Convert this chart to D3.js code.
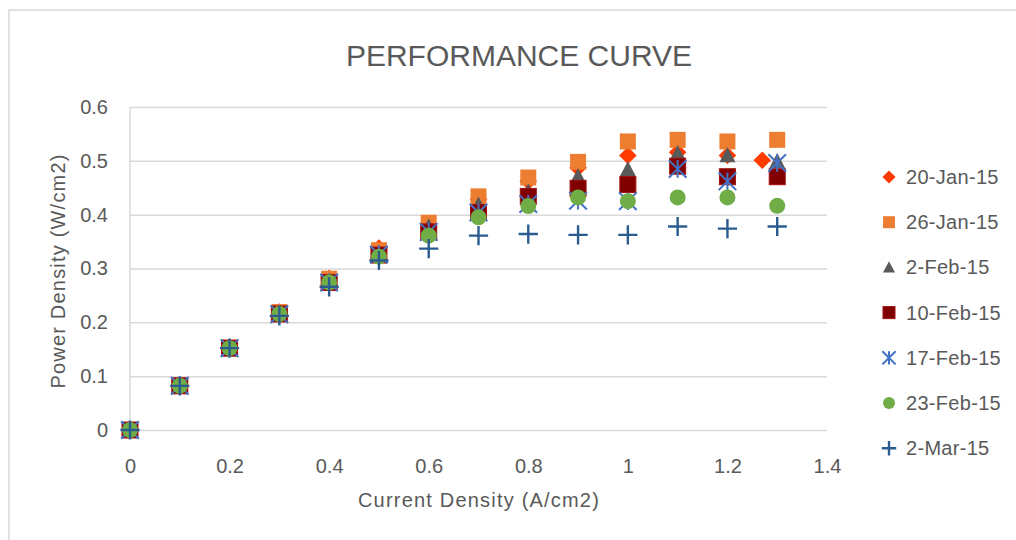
<!DOCTYPE html>
<html>
<head>
<meta charset="utf-8">
<script src="https://cdn.jsdelivr.net/npm/d3@7/dist/d3.min.js"></script>
<style>
  body { margin: 0; background: #fff; }
  text { font-family: "Liberation Sans", Arial, sans-serif; fill: #595959; }
</style>
</head>
<body>
<script>
const width = 1016
const height = 540

// data
const currentDensity = [0, 0.1, 0.2, 0.3, 0.4, 0.5, 0.6, 0.7, 0.8, 0.9, 1.0, 1.1, 1.2, 1.3]
const xJan20 = [0, 0.1, 0.2, 0.3, 0.4, 0.5, 0.6, 0.7, 0.8, 0.9, 1.0, 1.1, 1.2, 1.27]
const jan20 = [0, 0.083, 0.153, 0.219, 0.282, 0.338, 0.383, 0.428, 0.462, 0.487, 0.51, 0.516, 0.51, 0.501]
const jan26 = [0, 0.083, 0.153, 0.219, 0.281, 0.334, 0.385, 0.434, 0.469, 0.498, 0.536, 0.539, 0.536, 0.539]
const feb2 = [0, 0.083, 0.153, 0.217, 0.277, 0.329, 0.378, 0.418, 0.443, 0.471, 0.484, 0.514, 0.51, 0.499]
const feb10 = [0, 0.082, 0.152, 0.2155, 0.274, 0.325, 0.368, 0.404, 0.434, 0.449, 0.456, 0.49, 0.4705, 0.4705]
const feb17 = [0, 0.082, 0.152, 0.215, 0.274, 0.326, 0.368, 0.404, 0.42, 0.426, 0.425, 0.485, 0.462, 0.496]
const feb23 = [0, 0.082, 0.152, 0.2155, 0.274, 0.322, 0.361, 0.395, 0.416, 0.432, 0.425, 0.432, 0.432, 0.4165]
const mar2 = [0, 0.082, 0.152, 0.212, 0.266, 0.315, 0.337, 0.361, 0.364, 0.3625, 0.3625, 0.378, 0.374, 0.378]

const seriesNames = ['20-Jan-15', '26-Jan-15', '2-Feb-15', '10-Feb-15', '17-Feb-15', '23-Feb-15', '2-Mar-15']
const xTicks = [0, 0.2, 0.4, 0.6, 0.8, 1, 1.2, 1.4]
const yTicks = [0, 0.1, 0.2, 0.3, 0.4, 0.5, 0.6]

const series = [
    {name: seriesNames[0], xs: xJan20, ys: jan20, shape: 'diamond', color: '#ff3b00'},
    {name: seriesNames[1], xs: currentDensity, ys: jan26, shape: 'square', color: '#ed7d31'},
    {name: seriesNames[2], xs: currentDensity, ys: feb2, shape: 'triangle', color: '#595959'},
    {name: seriesNames[3], xs: currentDensity, ys: feb10, shape: 'square', color: '#800000', stroke: '#a31010'},
    {name: seriesNames[4], xs: currentDensity, ys: feb17, shape: 'star', color: '#4472c4'},
    {name: seriesNames[5], xs: currentDensity, ys: feb23, shape: 'circle', color: '#70ad47'},
    {name: seriesNames[6], xs: currentDensity, ys: mar2, shape: 'plus', color: '#2a5c8f'}
]

// plot area
const plotLeft = 130, plotRight = 827, plotTop = 107, plotBottom = 430

const x = d3.scaleLinear().domain([0, 1.4]).range([plotLeft, plotRight])
const y = d3.scaleLinear().domain([0, 0.6]).range([plotBottom, plotTop])

const svg = d3.select('body').append('svg')
    .attr('width', width)
    .attr('height', height)

// chart border
svg.append('rect')
    .attr('x', 9).attr('y', 10)
    .attr('width', width + 20).attr('height', height + 20)
    .style('fill', 'none')
    .style('stroke', '#d9d9d9')
    .style('stroke-width', 1.5)

// title
svg.append('text')
    .attr('x', 519).attr('y', 66)
    .attr('text-anchor', 'middle')
    .style('font-size', '30px')
    .text('PERFORMANCE CURVE')

// y gridlines + labels
const yAxis = svg.append('g')
    .attr('transform', `translate(${plotLeft},0)`)
    .call(d3.axisLeft(y).tickValues(yTicks).tickSize(-(plotRight - plotLeft)).tickPadding(22).tickFormat(d => String(d)))
yAxis.select('.domain').remove()
yAxis.selectAll('line').style('stroke', '#d9d9d9').style('stroke-width', 1.5)
yAxis.selectAll('text').style('font-size', '20px').style('fill', '#595959').style('font-family', '"Liberation Sans", Arial, sans-serif')

// vertical axis line
svg.append('line')
    .attr('x1', plotLeft).attr('x2', plotLeft)
    .attr('y1', plotTop).attr('y2', plotBottom)
    .style('stroke', '#d9d9d9')
    .style('stroke-width', 1.5)

// x labels
const xAxis = svg.append('g')
    .attr('transform', `translate(0,${plotBottom})`)
    .call(d3.axisBottom(x).tickValues(xTicks).tickSize(0).tickPadding(29).tickFormat(d => String(d)))
xAxis.select('.domain').remove()
xAxis.selectAll('text').style('font-size', '20px').style('fill', '#595959').style('font-family', '"Liberation Sans", Arial, sans-serif')

// axis titles
svg.append('text')
    .attr('x', 479).attr('y', 507)
    .attr('text-anchor', 'middle')
    .style('font-size', '20px')
    .style('letter-spacing', '1.2px')
    .text('Current Density (A/cm2)')

svg.append('text')
    .attr('transform', 'translate(65,271) rotate(-90)')
    .attr('text-anchor', 'middle')
    .style('font-size', '20px')
    .style('letter-spacing', '1.2px')
    .text('Power Density (W/cm2)')

// draw one marker at (cx, cy)
function drawMarker(g, shape, color, stroke, cx, cy, s) {
    if (shape == 'square') {
        g.append('rect')
            .attr('x', cx - s / 2).attr('y', cy - s / 2)
            .attr('width', s).attr('height', s)
            .style('fill', color)
            .style('stroke', stroke || 'none')
            .style('stroke-width', 1)
    } else if (shape == 'diamond') {
        let h = s * 0.55
        g.append('path')
            .attr('d', `M${cx},${cy - h}L${cx + h},${cy}L${cx},${cy + h}L${cx - h},${cy}Z`)
            .style('fill', color)
    } else if (shape == 'triangle') {
        let h = s * 0.95
        g.append('path')
            .attr('d', `M${cx},${cy - h * 0.55}L${cx + s / 2},${cy + h * 0.45}L${cx - s / 2},${cy + h * 0.45}Z`)
            .style('fill', color)
    } else if (shape == 'circle') {
        g.append('circle')
            .attr('cx', cx).attr('cy', cy).attr('r', s / 2)
            .style('fill', color)
    } else if (shape == 'plus') {
        let h = s * 0.6
        g.append('path')
            .attr('d', `M${cx - h},${cy}L${cx + h},${cy}M${cx},${cy - h}L${cx},${cy + h}`)
            .style('fill', 'none')
            .style('stroke', color)
            .style('stroke-width', 2.4)
    } else if (shape == 'star') {
        let h = s * 0.55
        g.append('path')
            .attr('d', `M${cx - h},${cy - h}L${cx + h},${cy + h}M${cx - h},${cy + h}L${cx + h},${cy - h}M${cx},${cy - h}L${cx},${cy + h}`)
            .style('fill', 'none')
            .style('stroke', color)
            .style('stroke-width', 2)
    }
}

// points, series drawn in order so later ones sit on top
series.forEach(sr => {
    let g = svg.append('g')
    sr.ys.forEach((v, i) => {
        drawMarker(g, sr.shape, sr.color, sr.stroke, x(sr.xs[i]), y(v), 16)
    })
})

// legend
series.forEach((sr, i) => {
    let ly = 177 + i * 45.2
    let g = svg.append('g')
    drawMarker(g, sr.shape, sr.color, sr.stroke, 889, ly, 12)
    g.append('text')
        .attr('x', 906).attr('y', ly + 7)
        .style('font-size', '20px')
        .style('letter-spacing', '0.3px')
        .text(sr.name)
})
</script>
</body>
</html>
